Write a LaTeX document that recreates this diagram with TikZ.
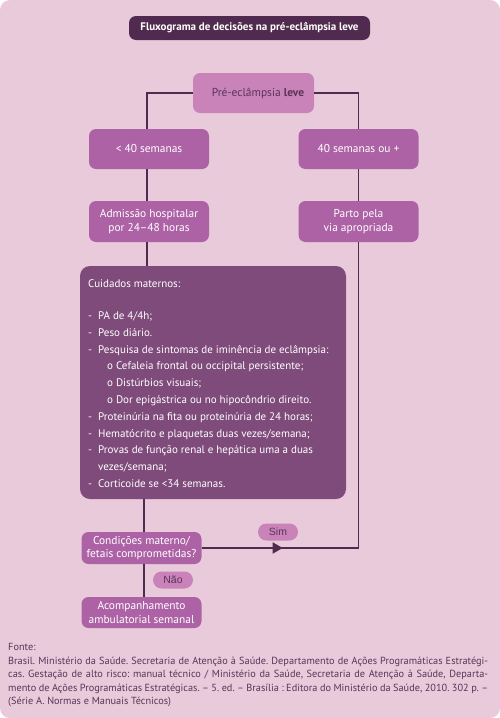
\documentclass[tikz,border=0pt]{standalone}
\usepackage{fontspec}
\setmainfont{PT Sans}
\newfontfamily\arialfont{Liberation Sans}
\usetikzlibrary{arrows.meta}
\frenchspacing
\definecolor{bgpink}{HTML}{E8CADB}
\definecolor{darkplum}{HTML}{512B4F}
\definecolor{midplum}{HTML}{AE62A6}
\definecolor{lightplum}{HTML}{C983B9}
\definecolor{boxplum}{HTML}{7E4B7B}
\definecolor{plumtext}{HTML}{5A3458}
\newcommand{\cuitem}[1]{\makebox[10pt][l]{-}#1}
\newcommand{\cusubitem}[1]{\hspace{19pt}#1}
\begin{document}
\frenchspacing
\begin{tikzpicture}[x=1pt,y=-1pt,
  boxbase/.style={rounded corners=7pt, inner sep=0pt, align=center},
  midbox/.style={boxbase, fill=midplum, text=white, minimum width=120pt,
     font=\fontsize{11.4}{13.8}\selectfont},
  lbl/.style={fill=lightplum, rounded corners=8.5pt, minimum width=40pt, minimum height=17pt,
     inner sep=0pt, text=plumtext, font=\arialfont\fontsize{10.5}{11}\selectfont},
  conn/.style={draw=darkplum, line width=1.6pt}]
\useasboundingbox (0,0) rectangle (500,718);
\fill[white] (0,0) rectangle (500,718);
\fill[bgpink, rounded corners=10pt] (0,0) rectangle (500,718);

\node[boxbase, fill=darkplum, text=white, minimum width=241pt, minimum height=24pt,
  font=\bfseries\fontsize{11}{12}\selectfont] (title) at (249.5,28)
  {Fluxograma de decisões na pré-eclâmpsia leve};

\node[boxbase, fill=lightplum, text=plumtext, minimum width=121pt, minimum height=40pt,
  font=\fontsize{11.5}{13.8}\selectfont] (pre) at (253.5,93)
  {\hspace{9pt}Pré-eclâmpsia \textbf{leve}};

\node[midbox, minimum height=40pt] (lt40) at (149,149) {< 40 semanas};
\node[midbox, minimum height=40pt] (ge40) at (358.5,149) {40 semanas ou +};
\node[midbox, minimum height=41pt] (adm) at (149,221.5) {Admissão hospitalar\\por 24–48 horas};
\node[midbox, minimum height=41pt] (parto) at (358.5,221.5) {Parto pela\\via apropriada};

\node[boxbase, fill=boxplum, rounded corners=10pt, minimum width=266pt, minimum height=233pt] (cuid) at (213,382.5) {};
\node[anchor=north west, inner sep=0pt, align=left, text=white,
  font=\fontsize{11}{16.8}\selectfont] (cuidtext) at (88,279.5)
  {Cuidados maternos:\\[15.2pt]
   \cuitem{PA de 4/4h;}\\
   \cuitem{Peso diário.}\\
   \cuitem{Pesquisa de sintomas de iminência de eclâmpsia:}\\
   \cusubitem{o Cefaleia frontal ou occipital persistente;}\\
   \cusubitem{o Distúrbios visuais;}\\
   \cusubitem{o Dor epigástrica ou no hipocôndrio direito.}\\
   \cuitem{Proteinúria na fita ou proteinúria de 24 horas;}\\
   \cuitem{Hematócrito e plaquetas duas vezes/semana;}\\
   \cuitem{Provas de função renal e hepática uma a duas}\\
   \hspace{10pt}vezes/semana;\\
   \cuitem{Corticoide se <34 semanas.}};

\node[midbox, minimum height=32pt] (cond) at (141.5,548) {Condições materno/\\fetais comprometidas?};
\node[midbox, minimum height=31pt] (acomp) at (141.5,612.5) {Acompanhamento\\ambulatorial semanal};

\node[lbl] (sim) at (278,532) {Sim};
\node[lbl] (nao) at (173,580) {Não};

% connectors
\draw[conn] (pre.west) -| (lt40.north -| 147,0);
\draw[conn] (pre.east) -| (ge40.north);
\draw[conn] (lt40.south -| 147,0) -- (adm.north -| 147,0);
\draw[conn] (ge40.south) -- (parto.north);
\draw[conn] (adm.south -| 147,0) -- (cuid.north -| 147,0);
\draw[conn] (cuid.south -| 144,0) -- (cond.north -| 144,0);
\draw[conn] (cond.south -| 144,0) -- (acomp.north -| 144,0);
\coordinate (corner) at (parto.south |- cond.east);
\draw[conn, line join=miter] (cond.east) -- (corner) -- (parto.south);
\draw[conn, -{Triangle[length=10pt,width=11pt]}] (cond.east) -- ++(81,0);

% source
\node[anchor=north west, inner sep=0pt, align=left, text=plumtext,
  font=\fontsize{10.3}{13.4}\selectfont] (fonte) at (8,643.5)
  {Fonte:\\
   \makebox[480pt][s]{Brasil. Ministério da Saúde. Secretaria de Atenção à Saúde. Departamento de Ações Programáticas Estratégi-}\\
   \makebox[480pt][s]{cas. Gestação de alto risco: manual técnico / Ministério da Saúde, Secretaria de Atenção à Saúde, Departa-}\\
   \makebox[480pt][s]{mento de Ações Programáticas Estratégicas. – 5. ed. – Brasília : Editora do Ministério da Saúde, 2010. 302 p. –}\\
   (Série A. Normas e Manuais Técnicos)};
\end{tikzpicture}
\end{document}
